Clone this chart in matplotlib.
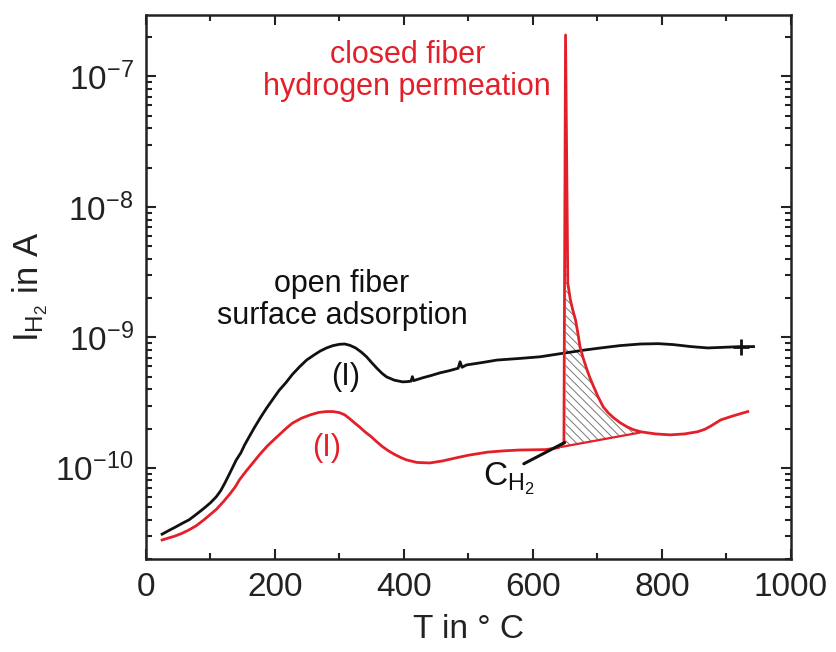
import numpy as np
import matplotlib
matplotlib.use("Agg")
import matplotlib.pyplot as plt
from matplotlib.ticker import LogLocator, LogFormatterMathtext, NullFormatter, MultipleLocator

# open fiber (black) - surface adsorption
open_T = [25, 35, 45, 56, 67, 78, 90, 100, 109, 116, 122, 128, 134, 140, 147, 153,
          160, 169, 178, 187, 196, 206, 217, 227, 238, 249, 260, 270, 280, 290,
          300, 308, 316, 325, 334, 342, 350, 358, 366, 373, 385, 398, 405, 411,
          413, 415, 429, 442, 456, 470, 484, 487, 490, 497, 520, 544, 580, 611,
          650, 680, 705, 735, 767, 795, 818, 845, 871, 897, 922, 942]
open_I = [3.1e-11, 3.3e-11, 3.5e-11, 3.75e-11, 4.0e-11, 4.4e-11, 4.9e-11, 5.4e-11,
          6.0e-11, 6.7e-11, 7.6e-11, 8.7e-11, 1.0e-10, 1.15e-10, 1.3e-10, 1.5e-10,
          1.73e-10, 2.07e-10, 2.45e-10, 2.87e-10, 3.32e-10, 3.9e-10, 4.5e-10,
          5.2e-10, 5.94e-10, 6.7e-10, 7.3e-10, 7.85e-10, 8.3e-10, 8.65e-10,
          8.85e-10, 8.9e-10, 8.7e-10, 8.3e-10, 7.7e-10, 7.1e-10, 6.4e-10, 5.8e-10,
          5.3e-10, 4.98e-10, 4.7e-10, 4.56e-10, 4.58e-10, 4.62e-10, 5.0e-10,
          4.66e-10, 4.9e-10, 5.1e-10, 5.35e-10, 5.55e-10, 5.8e-10, 6.5e-10,
          5.9e-10, 6.15e-10, 6.4e-10, 6.7e-10, 6.9e-10, 7.1e-10, 7.6e-10, 8.0e-10,
          8.3e-10, 8.65e-10, 8.9e-10, 8.95e-10, 8.8e-10, 8.5e-10, 8.3e-10,
          8.4e-10, 8.5e-10, 8.5e-10]

# closed fiber (red) - hydrogen permeation
closed_T = [25, 35, 45, 56, 67, 78, 90, 100, 109, 120, 130, 138, 145, 155, 165,
            176, 187, 197, 207, 217, 227, 241, 255, 268, 280, 290, 300, 308, 315,
            323, 331, 340, 350, 358, 367, 376, 385, 395, 404, 420, 440, 460, 480,
            500, 530, 555, 580, 620, 640, 648, 650.5, 654, 658, 662, 666, 670,
            673, 678, 684, 689, 694, 701, 709, 717, 725, 735, 746, 756, 767, 790,
            813, 835, 855, 866, 875, 883, 891, 910, 933]
closed_I = [2.8e-11, 2.9e-11, 3.0e-11, 3.15e-11, 3.35e-11, 3.6e-11, 4.0e-11,
            4.4e-11, 4.8e-11, 5.5e-11, 6.3e-11, 7.1e-11, 8.1e-11, 9.4e-11, 1.08e-10,
            1.26e-10, 1.45e-10, 1.62e-10, 1.8e-10, 2.0e-10, 2.2e-10, 2.4e-10,
            2.55e-10, 2.66e-10, 2.7e-10, 2.7e-10, 2.65e-10, 2.55e-10, 2.4e-10,
            2.22e-10, 2.06e-10, 1.88e-10, 1.72e-10, 1.58e-10, 1.45e-10, 1.35e-10,
            1.27e-10, 1.2e-10, 1.15e-10, 1.1e-10, 1.09e-10, 1.13e-10, 1.19e-10,
            1.25e-10, 1.32e-10, 1.35e-10, 1.37e-10, 1.38e-10, 1.43e-10, 1.55e-10,
            2.08e-7, 2.6e-9, 1.94e-9, 1.6e-9, 1.36e-9, 1.05e-9, 8.45e-10, 6.9e-10,
            5.6e-10, 4.8e-10, 4.2e-10, 3.5e-10, 2.93e-10, 2.63e-10, 2.42e-10,
            2.22e-10, 2.06e-10, 1.96e-10, 1.89e-10, 1.82e-10, 1.79e-10, 1.82e-10,
            1.89e-10, 1.97e-10, 2.08e-10, 2.2e-10, 2.33e-10, 2.5e-10, 2.7e-10]

# background line under the permeation peak
base_T = [645, 765]
base_I = [1.45e-10, 1.86e-10]

RED = '#e3202a'
BLACK = '#111111'

plt.rcParams['font.family'] = ['Liberation Sans', 'DejaVu Sans']
plt.rcParams['mathtext.fontset'] = 'custom'
plt.rcParams['mathtext.rm'] = 'Liberation Sans'
plt.rcParams['mathtext.it'] = 'Liberation Sans:italic'
plt.rcParams['hatch.linewidth'] = 0.7
plt.rcParams['hatch.color'] = '#777777'

fig = plt.figure(figsize=(8.37, 6.52), dpi=100)
ax = fig.add_axes([0.1744, 0.1426, 0.7706, 0.8344])

ax.plot(open_T, open_I, color=BLACK, lw=2.0, solid_joinstyle='round')
ax.plot(open_T[-2], open_I[-2], marker='+', ms=12, mew=2, color=BLACK)
ax.plot(closed_T, closed_I, color=RED, lw=2.0, solid_joinstyle='round')
ax.plot(base_T, base_I, color=RED, lw=1.6)

# hatched area between peak and background (log interpolation)
tt = np.linspace(650.6, base_T[1], 200)
top = 10 ** np.interp(tt, closed_T, np.log10(closed_I))
bot = 10 ** np.interp(tt, base_T, np.log10(base_I))
ax.fill_between(tt, bot, np.maximum(top, bot), facecolor='none',
                edgecolor='#777777', hatch='\\\\\\\\', linewidth=0)

ax.set_yscale('log')
ax.set_xlim(0, 1000)
ax.set_ylim(2.0e-11, 2.96e-7)

ax.xaxis.set_major_locator(MultipleLocator(200))
ax.xaxis.set_minor_locator(MultipleLocator(100))
ax.yaxis.set_major_locator(LogLocator(base=10, numticks=10))
ax.yaxis.set_minor_locator(LogLocator(base=10, subs=np.arange(2, 10), numticks=20))
ax.yaxis.set_major_formatter(LogFormatterMathtext())
ax.yaxis.set_minor_formatter(NullFormatter())

ax.tick_params(which='both', direction='in', top=True, right=True, width=1.5,
               labelsize=24, colors='#222222')
ax.tick_params(which='major', length=7, pad=9)
ax.tick_params(which='minor', length=4)
for sp in ax.spines.values():
    sp.set_linewidth(1.8)
    sp.set_color('#222222')

ax.set_xlabel('T in ° C', fontsize=24, color='#222222', labelpad=8)
ax.set_ylabel(r'$\mathregular{I_{H_2}}$ in A', fontsize=25, color='#222222', labelpad=4)

ax.text(405, 1.1e-7, 'closed fiber\nhydrogen permeation', color=RED, fontsize=22,
        ha='center', va='center', linespacing=1.1)
ax.text(304, 1.94e-9, 'open fiber\nsurface adsorption', color=BLACK, fontsize=22,
        ha='center', va='center', linespacing=1.1)
ax.text(310, 5.0e-10, '(I)', color=BLACK, fontsize=22, ha='center', va='center')
ax.text(280, 1.42e-10, '(I)', color=RED, fontsize=22, ha='center', va='center')

ax.text(562, 8.2e-11, r'$\mathregular{C_{H_2}}$', color=BLACK, fontsize=24,
        ha='center', va='center')
ax.annotate('', xy=(653, 1.6e-10), xytext=(582, 1.05e-10),
            arrowprops=dict(arrowstyle='-', color=BLACK, lw=2.2))

fig.savefig('out.png', dpi=100)
